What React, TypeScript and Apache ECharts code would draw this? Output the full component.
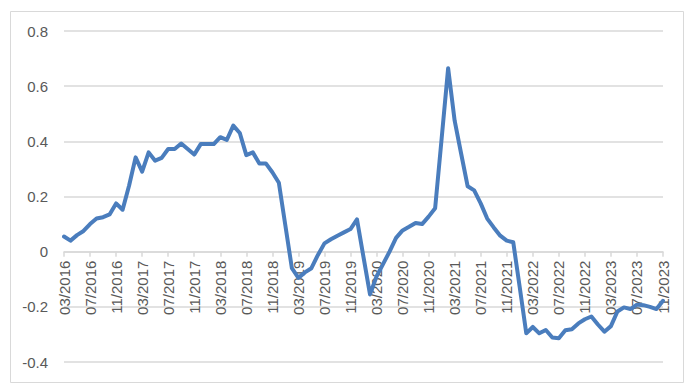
import React, { useEffect, useRef } from "react";
import * as echarts from "echarts";

const startYear = 2016;
const startMonth = 3;
const monthCount = 93;

const months: string[] = [];
for (let i = 0; i < monthCount; i++) {
  const m = ((startMonth - 1 + i) % 12) + 1;
  const y = startYear + Math.floor((startMonth - 1 + i) / 12);
  months.push((m < 10 ? "0" + m : "" + m) + "/" + y);
}

const values: number[] = [
  0.055, 0.04, 0.06, 0.075, 0.1, 0.12, 0.125, 0.135, 0.175, 0.152,
  0.24, 0.342, 0.29, 0.36, 0.33, 0.34, 0.372, 0.372, 0.392, 0.372,
  0.352, 0.39, 0.39, 0.39, 0.415, 0.405, 0.457, 0.43, 0.35, 0.36,
  0.32, 0.32, 0.288, 0.25, 0.095, -0.06, -0.095, -0.075, -0.06, -0.012,
  0.03, 0.045, 0.058, 0.07, 0.082, 0.117, -0.02, -0.155, -0.09, -0.045,
  0.0, 0.05, 0.077, 0.09, 0.104, 0.1, 0.127, 0.157, 0.41, 0.665,
  0.475, 0.355, 0.237, 0.222, 0.175, 0.12, 0.088, 0.058, 0.04, 0.034,
  -0.13, -0.296, -0.273, -0.296, -0.284, -0.311, -0.314, -0.285, -0.281, -0.26,
  -0.245, -0.235, -0.264, -0.29, -0.27, -0.217, -0.202, -0.208, -0.192, -0.194,
  -0.2, -0.208, -0.178,
];

const yMin = -0.4;
const yMax = 0.8;
const yStep = 0.2;

const H = 386;
const gridTop = 31;
const gridBottom = 24;

export default function App() {
  const ref = useRef<HTMLDivElement>(null);
  useEffect(() => {
    if (!ref.current) return;
    const chart = echarts.init(ref.current, undefined, { renderer: "svg" });
    const plotH = H - gridTop - gridBottom;
    // place the category axis at the value 0 (Excel style)
    const zeroFromBottom = plotH * ((0 - yMin) / (yMax - yMin));
    chart.setOption({
      animation: false,
      backgroundColor: "#ffffff",
      graphic: [
        {
          type: "rect",
          shape: { x: 10.5, y: 11.5, width: 673, height: 371 },
          style: { fill: "none", stroke: "#d9d9d9", lineWidth: 1 },
          silent: true,
        },
      ],
      grid: {
        left: 64,
        right: 25,
        top: gridTop,
        bottom: gridBottom,
        containLabel: false,
        outerBoundsMode: "none",
      },
      xAxis: {
        type: "category",
        data: months,
        boundaryGap: false,
        offset: -zeroFromBottom,
        axisLine: {
          onZero: false,
          lineStyle: { color: "#d9d9d9", width: 1.5 },
        },
        axisTick: { show: true, interval: 3, length: 5, lineStyle: { color: "#d9d9d9", width: 1.5 } },
        axisLabel: {
          interval: 3,
          rotate: 90,
          margin: 9,
          color: "#595959",
          fontSize: 15,
          fontFamily: "Liberation Sans",
        },
        splitLine: { show: false },
      },
      yAxis: {
        type: "value",
        min: yMin,
        max: yMax,
        interval: yStep,
        axisLine: { show: false, onZero: false },
        axisTick: { show: false },
        axisLabel: {
          margin: 16,
          color: "#595959",
          fontSize: 15,
          fontFamily: "Liberation Sans",
          formatter: (v: number) => String(Math.round(v * 10) / 10),
        },
        splitLine: { lineStyle: { color: "#d9d9d9", width: 1.5 } },
      },
      series: [
        {
          type: "line",
          data: values,
          symbol: "none",
          smooth: false,
          z: 3,
          lineStyle: { color: "#4a7dbd", width: 4, join: "round", cap: "round" },
        },
      ],
    });
    return () => chart.dispose();
  }, []);
  return (
    <div
      ref={ref}
      style={{ position: "absolute", left: 0, top: 0, width: 688, height: H }}
    />
  );
}
